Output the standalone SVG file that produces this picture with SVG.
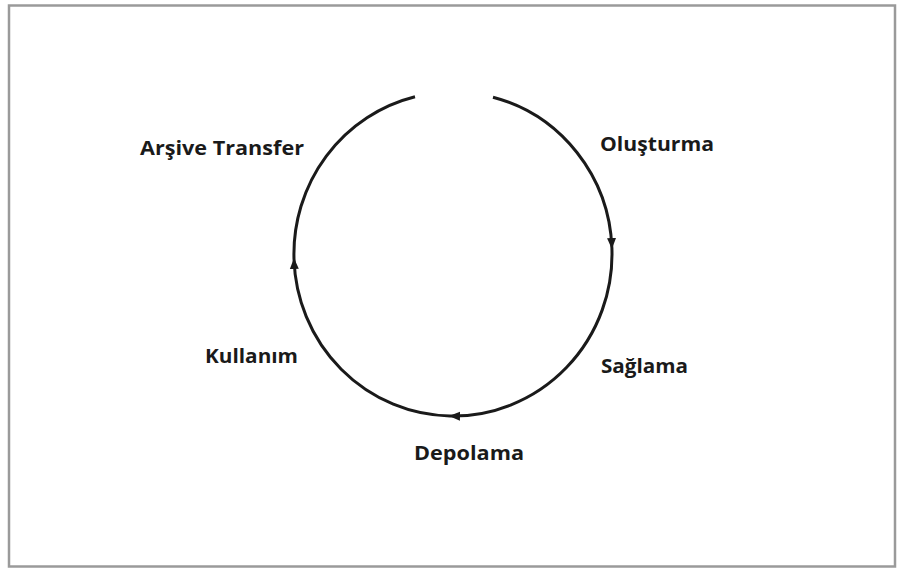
<svg xmlns="http://www.w3.org/2000/svg" width="901" height="571" viewBox="0 0 901 571">
<style>
.lbl{font-family:"Open Sans",Lato,"Liberation Sans",sans-serif;font-weight:bold;font-size:19.5px;fill:#1a1a1a}
.arc{fill:none;stroke:#1a1a1a;stroke-width:3}
</style>
<defs>
<marker id="ah" markerUnits="userSpaceOnUse" markerWidth="12" markerHeight="10" refX="10" refY="5" orient="auto" viewBox="0 0 12 10">
<path d="M0,0.5 L11,5 L0,9.5 z" fill="#1a1a1a"/>
</marker>
</defs>
<rect x="0" y="0" width="901" height="571" fill="#ffffff"/>
<rect x="9" y="5.5" width="886" height="561" fill="none" stroke="#9a9a9a" stroke-width="2.5"/>
<g id="connectors">
<path class="arc" marker-mid="url(#ah)" d="M493,97.2 A159,162 0 0,1 611.9,248 A159,162 0 0,1 450,416 A159,162 0 0,1 294,259 A159,162 0 0,1 415,96.7"/>
</g>
<g id="node-olusturma"><text class="lbl" x="600" y="151" textLength="114" lengthAdjust="spacingAndGlyphs">Oluşturma</text></g>
<g id="node-saglama"><text class="lbl" x="601" y="373" textLength="87" lengthAdjust="spacingAndGlyphs">Sağlama</text></g>
<g id="node-depolama"><text class="lbl" x="414" y="460" textLength="110" lengthAdjust="spacingAndGlyphs">Depolama</text></g>
<g id="node-kullanim"><text class="lbl" x="205" y="363" textLength="93" lengthAdjust="spacingAndGlyphs">Kullanım</text></g>
<g id="node-arsive"><text class="lbl" x="140" y="155" textLength="164" lengthAdjust="spacingAndGlyphs">Arşive Transfer</text></g>
</svg>
